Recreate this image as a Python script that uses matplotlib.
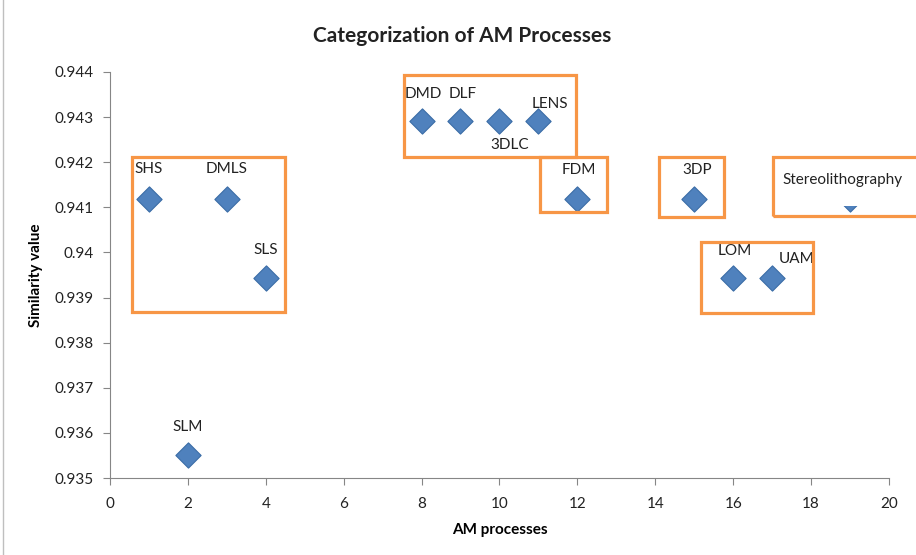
import matplotlib.pyplot as plt
from matplotlib.patches import Rectangle
from matplotlib.lines import Line2D

plt.rcParams['font.family'] = ['Lato', 'DejaVu Sans']

# Datos
procesos = ['SHS', 'SLM', 'DMLS', 'SLS', 'DMD', 'DLF', '3DLC', 'LENS', 'FDM',
            '3DP', 'LOM', 'UAM', 'Stereolithography']
x_vals = [1, 2, 3, 4, 8, 9, 10, 11, 12, 15, 16, 17, 19]
similitud = [0.94118, 0.93551, 0.94118, 0.93943, 0.94291, 0.94291, 0.94291,
             0.94291, 0.94118, 0.94118, 0.93943, 0.93943, 0.94118]

# desplazamiento de cada etiqueta (pixeles)
offsets = {'SHS': (0, 30), 'SLM': (0, 28), 'DMLS': (0, 30), 'SLS': (0, 28),
           'DMD': (2, 27), 'DLF': (2, 27), '3DLC': (10, -24), 'LENS': (12, 17),
           'FDM': (1, 29), '3DP': (3, 29), 'LOM': (2, 27), 'UAM': (25, 19),
           'Stereolithography': (-7, 19)}

azul = '#4F81BD'
naranja = '#F79646'

fig = plt.figure(figsize=(9.16, 5.55), dpi=100)
ax = fig.add_axes([0.120, 0.1387, 0.8505, 0.7316])

ax.scatter(x_vals, similitud, marker='D', s=165, c=azul, edgecolors='#3A6CA6',
           linewidths=0.8, zorder=3)

for nombre, x, y in zip(procesos, x_vals, similitud):
    dx, dy = offsets[nombre]
    kw = {}
    if nombre == 'Stereolithography':
        # la etiqueta tapa casi todo el rombo
        kw = dict(bbox=dict(boxstyle='square,pad=1.25', fc='white', ec='none'))
    ax.annotate(nombre, (x, y), xytext=(dx, dy), textcoords='offset pixels',
                ha='center', va='center', fontsize=11, color='#222222',
                zorder=5, annotation_clip=False, **kw)

# recuadros de agrupacion (x0, x1, y0, y1)
grupos = [(0.565, 4.5, 0.938678, 0.942115),
          (7.55, 11.96, 0.942115, 0.943933),
          (11.04, 12.76, 0.940896, 0.942115),
          (14.1, 15.76, 0.940785, 0.942115),
          (17.02, 20.8, 0.940807, 0.942115),
          (15.17, 18.05, 0.938656, 0.94023)]
for x0, x1, y0, y1 in grupos:
    ax.add_patch(Rectangle((x0, y0), x1 - x0, y1 - y0, fill=False,
                           ec=naranja, lw=2.3, zorder=6, clip_on=False))

ax.set_xlim(0, 20)
ax.set_ylim(0.935, 0.944)
ax.set_xticks(range(0, 21, 2))
ax.set_yticks([0.935 + 0.001 * i for i in range(10)])
ax.set_yticklabels(['0.935', '0.936', '0.937', '0.938', '0.939', '0.94',
                    '0.941', '0.942', '0.943', '0.944'])
for s in ['top', 'right']:
    ax.spines[s].set_visible(False)
for s in ['left', 'bottom']:
    ax.spines[s].set_color('#868686')
ax.tick_params(direction='out', length=5, color='#868686', labelsize=11,
               labelcolor='#222222')
ax.tick_params(axis='x', pad=9)
ax.tick_params(axis='y', pad=7)

ax.set_xlabel('AM processes', fontsize=11, fontweight='bold', labelpad=8)
ax.set_ylabel('Similarity value', fontsize=11, fontweight='bold', labelpad=8)
fig.text(0.505, 0.935, 'Categorization of AM Processes', ha='center',
         va='center', fontsize=15, fontweight='bold', color='#222222')

fig.add_artist(Line2D([0.003, 0.003], [0, 1], color='#BFBFBF', lw=1))

fig.savefig('out.png', dpi=100)
